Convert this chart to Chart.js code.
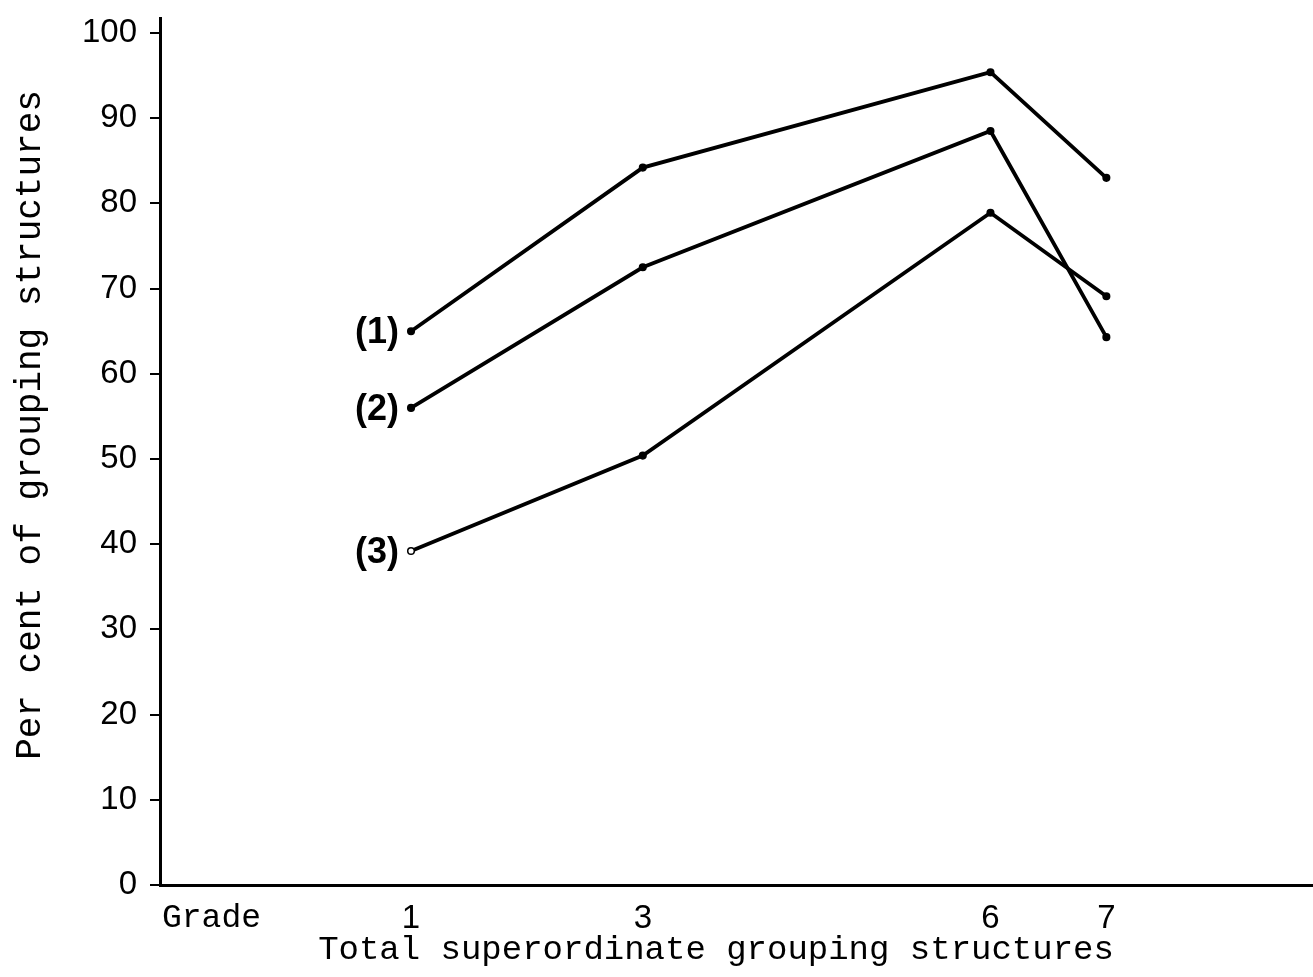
<!DOCTYPE html>
<html>
<head>
<meta charset="utf-8">
<script src="https://cdn.jsdelivr.net/npm/chart.js@4.4.1/dist/chart.umd.min.js"></script>
<style>
  html, body { margin: 0; padding: 0; background: #fff; }
  #wrap { width: 1313px; height: 977px; }
</style>
</head>
<body>
<div id="wrap"><canvas id="myChart" width="1313" height="977"></canvas></div>
<script>
// grades on the x axis
var grades = [1, 3, 6, 7];
// per cent of grouping structures, one array per curve
var series1 = [65, 84.2, 95.4, 83];
var series2 = [56, 72.5, 88.5, 64.3];
var series3 = [39.2, 50.4, 78.9, 69.1];
var seriesNames = ['(1)', '(2)', '(3)'];
var yTicks = [0, 10, 20, 30, 40, 50, 60, 70, 80, 90, 100];
var xTitle = 'Total superordinate grouping structures';
var yTitle = 'Per cent of grouping structures';

var mono = '"Liberation Mono", "DejaVu Sans Mono", monospace';
var sans = '"Liberation Sans", Arial, sans-serif';

function toPoints(values) {
    return values.map(function(v, i) { return {x: grades[i], y: v}; });
}

function makeSet(name, values, hollowFirst) {
    return {
        label: name,
        data: toPoints(values),
        borderColor: '#000',
        borderWidth: 3.8,
        pointRadius: 3.3,
        pointBorderWidth: 1.5,
        pointBorderColor: '#000',
        pointBackgroundColor: values.map(function(v, i) {
            return (hollowFirst && i === 0) ? '#fff' : '#000';
        }),
        tension: 0,
        fill: false
    };
}

// curve numbers beside the first points, "Grade" under the axis, and both axis titles
var chartText = {
    id: 'chartText',
    afterDatasetsDraw: function(chart) {
        var ctx = chart.ctx;
        var area = chart.chartArea;
        ctx.save();
        ctx.fillStyle = '#000';
        ctx.font = 'bold 36px ' + sans;
        ctx.textAlign = 'right';
        ctx.textBaseline = 'middle';
        chart.data.datasets.forEach(function(ds, i) {
            var pt = chart.getDatasetMeta(i).data[0];
            ctx.fillText(seriesNames[i], pt.x - 12, pt.y + 2);
        });

        ctx.font = '33px ' + mono;
        ctx.textAlign = 'left';
        ctx.fillText('Grade', area.left + 2, area.bottom + 33);

        ctx.textAlign = 'center';
        ctx.font = '34px ' + mono;
        ctx.fillText(xTitle, 716, area.bottom + 65);

        ctx.translate(30, 425);
        ctx.rotate(-Math.PI / 2);
        ctx.font = '36px ' + mono;
        ctx.fillText(yTitle, 0, 0);
        ctx.restore();
    }
};

var ctx = document.getElementById('myChart');
var myLineChart = new Chart(ctx, {
    type: 'line',
    data: {
        datasets: [
            makeSet(seriesNames[0], series1, false),
            makeSet(seriesNames[1], series2, false),
            makeSet(seriesNames[2], series3, true)
        ]
    },
    options: {
        responsive: false,
        animation: false,
        layout: { autoPadding: false, padding: { top: 18, right: 0, left: 0, bottom: 0 } },
        plugins: {
            legend: { display: false },
            tooltip: { enabled: false }
        },
        scales: {
            x: {
                type: 'linear',
                min: -1.166,
                max: 8.783,
                afterBuildTicks: function(scale) {
                    scale.ticks = grades.map(function(g) { return {value: g}; });
                },
                afterFit: function(scale) { scale.height = 92; },
                grid: { display: false },
                border: { color: '#000', width: 3 },
                ticks: {
                    color: '#000',
                    font: { family: sans, size: 33 },
                    padding: 6,
                    maxRotation: 0,
                    autoSkip: false,
                    callback: function(v) { return String(v); }
                }
            },
            y: {
                min: 0,
                max: 101.76,
                afterBuildTicks: function(scale) {
                    scale.ticks = yTicks.map(function(v) { return {value: v}; });
                },
                afterFit: function(scale) {
                    scale.width = 160;
                    scale.paddingTop = 0;
                    scale.paddingBottom = 0;
                },
                grid: {
                    drawOnChartArea: false,
                    drawTicks: true,
                    tickLength: 10,
                    color: '#000',
                    lineWidth: 2
                },
                border: { color: '#000', width: 3 },
                ticks: {
                    color: '#000',
                    font: { family: sans, size: 33 },
                    padding: 13
                }
            }
        }
    },
    plugins: [chartText]
});
</script>
</body>
</html>
